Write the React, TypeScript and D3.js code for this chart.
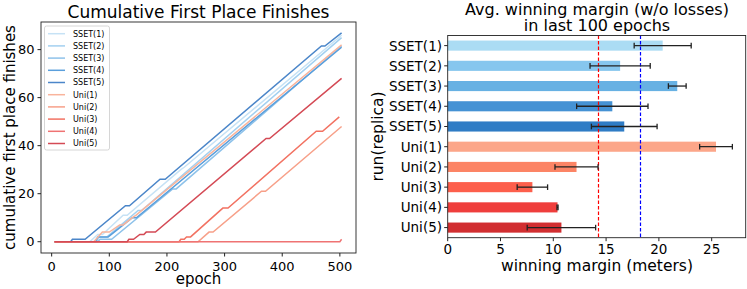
import * as d3 from 'd3';

// ---- data ----
const replicaNames = ['SSET(1)', 'SSET(2)', 'SSET(3)', 'SSET(4)', 'SSET(5)', 'Uni(1)', 'Uni(2)', 'Uni(3)', 'Uni(4)', 'Uni(5)'];

// cumulative first-place curves, [epoch, count] at each kink
const sset1Curve = [[5, 0], [66, 0], [80, 3], [88, 3], [124, 11], [131, 11], [224, 30], [230, 31], [503, 86]];
const sset2Curve = [[5, 0], [78, 0], [82, 2], [96, 2], [150, 13], [156, 13], [503, 85]];
const sset3Curve = [[5, 0], [80, 0], [84, 1], [104, 1], [210, 22], [216, 22], [503, 81.5]];
const sset4Curve = [[5, 0], [76, 0], [80, 2], [98, 2], [140, 10], [147, 10], [503, 81]];
const sset5Curve = [[5, 0], [33, 0], [36, 1], [58, 1], [128, 15], [135, 15], [188, 26], [197, 26], [468, 81.5], [474, 81.5], [503, 87]];
const uni1Curve = [[5, 0], [73, 0], [88, 4], [100, 4], [118, 7], [124, 7], [140, 10], [146, 11], [503, 82]];
const uni2Curve = [[5, 0], [254, 0], [273, 4], [280, 4], [364, 21], [371, 21], [503, 48]];
const uni3Curve = [[5, 0], [221, 0], [224, 1], [230, 1], [234, 2], [241, 2], [297, 14], [306, 14], [459, 46], [470, 46], [499, 52]];
const uni4Curve = [[5, 0], [500, 0], [503, 1]];
const uni5Curve = [[5, 0], [131, 0], [134, 1], [142, 1], [153, 3], [160, 3], [164, 4], [180, 4], [372, 43], [378, 43], [503, 68]];
const curves = [sset1Curve, sset2Curve, sset3Curve, sset4Curve, sset5Curve, uni1Curve, uni2Curve, uni3Curve, uni4Curve, uni5Curve];

// avg winning margin in last 100 epochs
const marginMean = [20.36, 16.33, 21.74, 15.59, 16.72, 25.41, 12.2, 8.02, 10.4, 10.77];
const marginErr = [2.7, 2.85, 0.84, 3.38, 3.11, 1.55, 2.04, 1.44, 0.05, 3.24];
const uniMeanLine = 14.2;
const ssetMeanLine = 18.18;

const epochTicks = [0, 100, 200, 300, 400, 500];
const countTicks = [0, 20, 40, 60, 80];
const marginTicks = [0, 5, 10, 15, 20, 25];

const lineColors = ['#c6e2f5', '#a3d0f0', '#8ec2ea', '#5a9fdc', '#4b86c9', '#f9b49c', '#f7a089', '#f27262', '#ef7373', '#d44a55'];
const barColors = ['#abdcf4', '#86c6ee', '#67b1e3', '#4592d4', '#2f7cc5', '#fca689', '#fc8465', '#fd5f4c', '#ef3e3c', '#d12e30'];

const FONT = 'DejaVu Sans, sans-serif';
const AX = '#222';

export default function App() {
  // left panel
  const lx = d3.scaleLinear().domain([-18.5, 528]).range([41, 356]);
  const ly = d3.scaleLinear().domain([-4.7, 91.5]).range([253, 22]);
  const line = d3.line<number[]>().x(d => lx(d[0])).y(d => ly(d[1]));

  // right panel
  const rx = d3.scaleLinear().domain([0, 28.25]).range([447.7, 746]);
  const ry = d3.scaleBand<string>().domain(replicaNames).range([35.5, 237.7]).paddingInner(0.5).paddingOuter(0.25);
  const mid = (n: string) => (ry(n) || 0) + ry.bandwidth() / 2;
  const crisp = (v: number) => Math.round(v) + 0.5;

  return (
    <svg width={747} height={289} style={{ position: 'absolute', left: 0, top: 0, background: '#fff' }} fontFamily={FONT}>
      {/* ---------- left: cumulative finishes ---------- */}
      <text x={198.5} y={17.5} fontSize={17} textAnchor="middle">Cumulative First Place Finishes</text>
      <g>
        {curves.map((c, i) => (
          <path key={i} d={line(c) || ''} fill="none" stroke={lineColors[i]} strokeWidth={1.5} />
        ))}
      </g>
      <rect x={41} y={22} width={315} height={231} fill="none" stroke={AX} strokeWidth={0.9} />
      {epochTicks.map(t => (
        <g key={t}>
          <line x1={lx(t)} x2={lx(t)} y1={253} y2={256.5} stroke={AX} />
          <text x={lx(t)} y={270.5} fontSize={13} textAnchor="middle">{t}</text>
        </g>
      ))}
      {countTicks.map(t => (
        <g key={t}>
          <line x1={37.5} x2={41} y1={ly(t)} y2={ly(t)} stroke={AX} />
          <text x={34.5} y={ly(t) + 4.7} fontSize={13} textAnchor="end">{t}</text>
        </g>
      ))}
      <text x={198.5} y={283.5} fontSize={15} textAnchor="middle">epoch</text>
      <text transform="translate(15,137.5) rotate(-90)" fontSize={15} textAnchor="middle">cumulative first place finishes</text>
      {/* legend */}
      <rect x={44.5} y={26} width={65} height={124} rx={2} fill="#fff" fillOpacity={0.8} stroke="#ccc" strokeWidth={0.8} />
      {replicaNames.map((n, i) => (
        <g key={n}>
          <line x1={48} x2={65} y1={33.7 + i * 12.2} y2={33.7 + i * 12.2} stroke={lineColors[i]} strokeWidth={1.5} />
          <text x={73} y={33.7 + i * 12.2 + 2.9} fontSize={8}>{n}</text>
        </g>
      ))}

      {/* ---------- right: winning margin ---------- */}
      <text x={597} y={15} fontSize={16} textAnchor="middle">Avg. winning margin (w/o losses)</text>
      <text x={597} y={31} fontSize={16} textAnchor="middle">in last 100 epochs</text>
      {replicaNames.map((n, i) => (
        <rect key={n} x={rx(0)} y={ry(n)} width={rx(marginMean[i]) - rx(0)} height={ry.bandwidth()} fill={barColors[i]} />
      ))}
      <line x1={crisp(rx(uniMeanLine))} x2={crisp(rx(uniMeanLine))} y1={35.5} y2={237.7} stroke="#ff0000" strokeWidth={1.2} strokeDasharray="3.5,2" />
      <line x1={crisp(rx(ssetMeanLine))} x2={crisp(rx(ssetMeanLine))} y1={35.5} y2={237.7} stroke="#0000ff" strokeWidth={1.2} strokeDasharray="3.5,2" />
      {replicaNames.map((n, i) => {
        const yc = mid(n);
        const a = rx(marginMean[i] - marginErr[i]);
        const b = rx(marginMean[i] + marginErr[i]);
        return (
          <g key={n} stroke="#222" strokeWidth={1.3}>
            <line x1={a} x2={b} y1={yc} y2={yc} />
            <line x1={a} x2={a} y1={yc - 2.8} y2={yc + 2.8} />
            <line x1={b} x2={b} y1={yc - 2.8} y2={yc + 2.8} />
          </g>
        );
      })}
      <rect x={447.7} y={35.5} width={298} height={202.2} fill="none" stroke={AX} strokeWidth={0.9} />
      {marginTicks.map(t => (
        <g key={t}>
          <line x1={rx(t)} x2={rx(t)} y1={237.7} y2={241.2} stroke={AX} />
          <text x={rx(t)} y={253.5} fontSize={13.5} textAnchor="middle">{t}</text>
        </g>
      ))}
      {replicaNames.map(n => (
        <g key={n}>
          <line x1={444.2} x2={447.7} y1={mid(n)} y2={mid(n)} stroke={AX} />
          <text x={442} y={mid(n) + 4.9} fontSize={13.5} textAnchor="end">{n}</text>
        </g>
      ))}
      <text x={597} y={270.5} fontSize={15.5} textAnchor="middle">winning margin (meters)</text>
      <text transform="translate(383,136.5) rotate(-90)" fontSize={15.5} textAnchor="middle">run(replica)</text>
    </svg>
  );
}
